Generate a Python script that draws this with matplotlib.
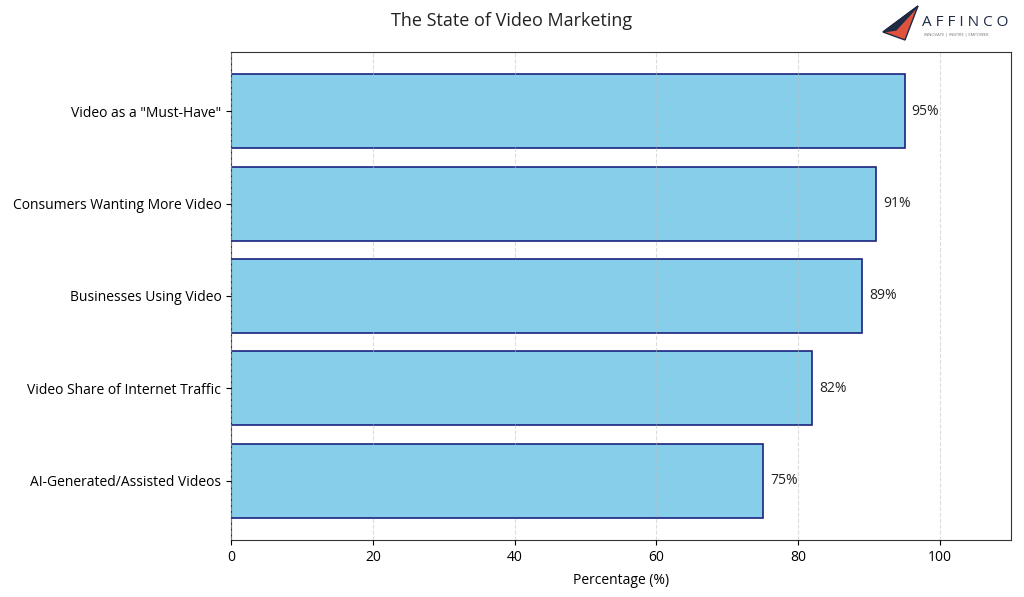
import matplotlib.pyplot as plt
from matplotlib.patches import Polygon

categories = ['Video as a "Must-Have"', 'Consumers Wanting More Video',
              'Businesses Using Video', 'Video Share of Internet Traffic',
              'AI-Generated/Assisted Videos']
values = [95, 91, 89, 82, 75]

plt.rcParams['font.family'] = ['Open Sans', 'DejaVu Sans']

fig = plt.figure(figsize=(10.24, 5.97), dpi=100)
ax = fig.add_axes([231/1024, 1 - 540/597, 780/1024, 488/597])

ax.barh(categories, values, height=0.8, color='#87CEEB', edgecolor='#1a237e', linewidth=1.2)
ax.invert_yaxis()
ax.set_xlim(0, 110)
ax.set_axisbelow(False)
ax.grid(axis='x', linestyle='--', color='#bbbbbb', alpha=0.5, linewidth=0.8)

for i, v in enumerate(values):
    ax.text(v + 1, i, f'{v}%', va='center', ha='left', fontsize=10, color='#222222')

ax.set_xlabel('Percentage (%)', fontsize=10, labelpad=6)
ax.tick_params(labelsize=10)
for s in ax.spines.values():
    s.set_color('#333333')

fig.text(0.5, 1 - 21/597, 'The State of Video Marketing', ha='center', va='center', fontsize=13, color='#222222')

# logo
plane = Polygon([[883/1024, 1 - 32/597], [918/1024, 1 - 6/597], [905/1024, 1 - 40/597]],
                closed=True, transform=fig.transFigure, facecolor='#e0533d', edgecolor='#1f2a44', linewidth=1)
fig.patches.append(plane)
plane2 = Polygon([[883/1024, 1 - 32/597], [918/1024, 1 - 6/597], [896/1024, 1 - 30/597]],
                 closed=True, transform=fig.transFigure, color='#1f2a44')
fig.patches.append(plane2)
fig.text(922/1024, 1 - 23/597, 'A F F I N C O', fontsize=11, color='#1f2a44', va='center')
fig.text(924/1024, 1 - 35/597, 'INNOVATE | INSPIRE | EMPOWER', fontsize=3, color='#777777', va='center')

fig.savefig('out.png', dpi=100)
